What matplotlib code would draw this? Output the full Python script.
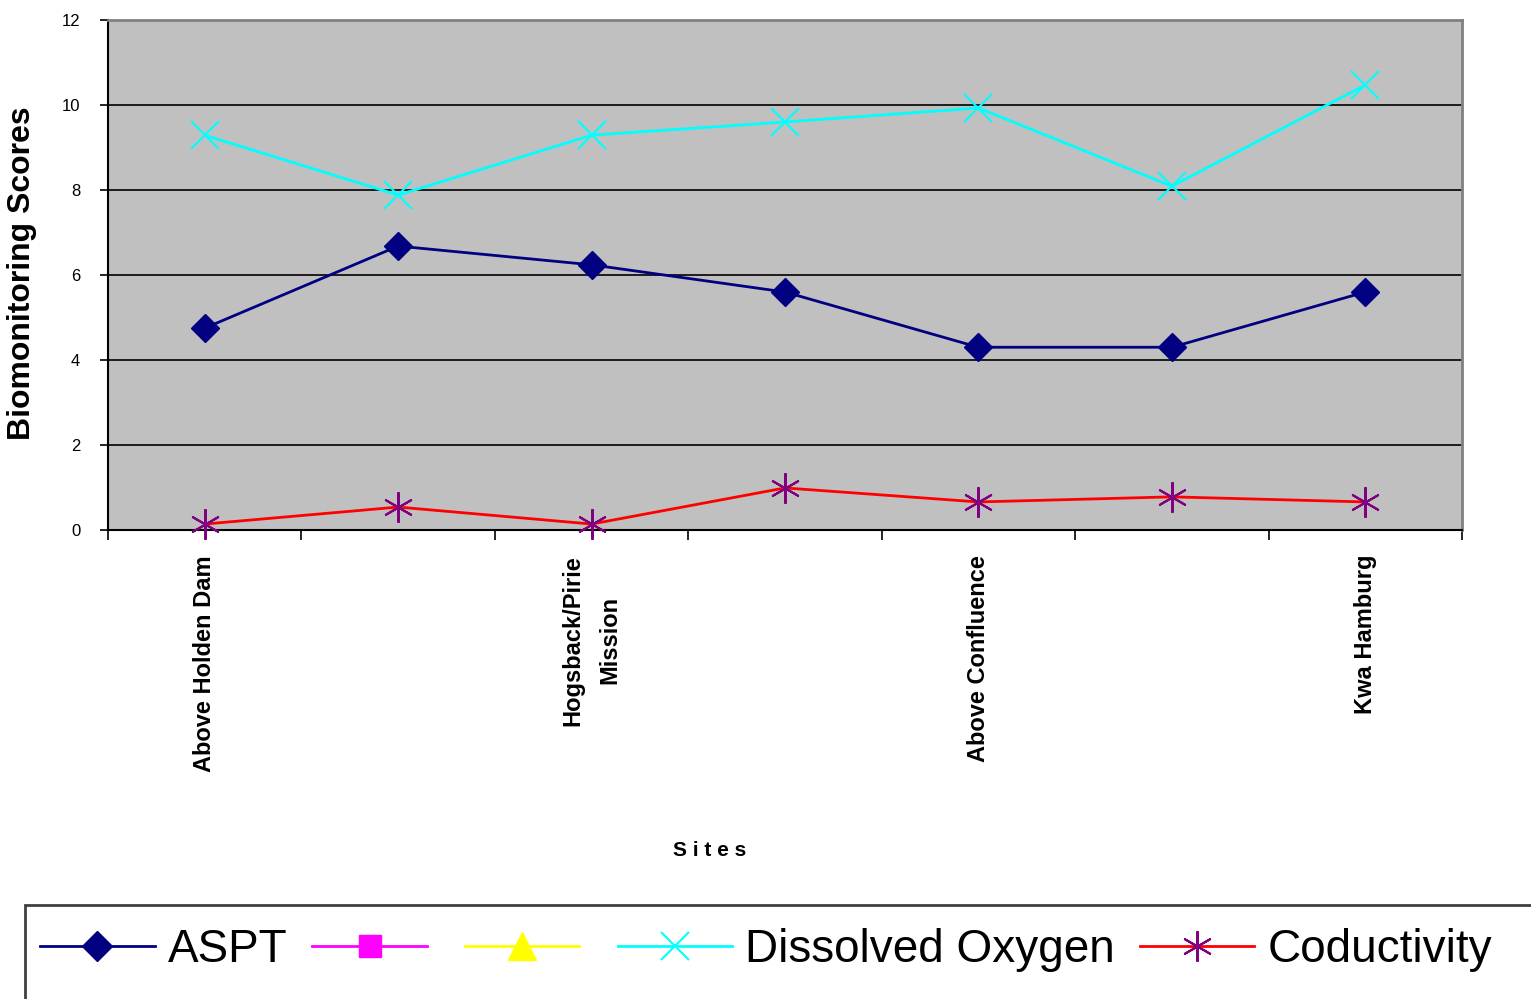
import matplotlib.pyplot as plt
from matplotlib.lines import Line2D
from matplotlib.patches import Rectangle

# sites along the river (only every other one is labelled on the axis)
sites = ["Above Holden Dam", "", "Hogsback/Pirie\nMission", "", "Above Confluence", "", "Kwa Hamburg"]

aspt = [4.75, 6.68, 6.24, 5.60, 4.30, 4.30, 5.60]
dissolved_oxygen = [9.29, 7.88, 9.29, 9.60, 9.93, 8.09, 10.47]
conductivity = [0.14, 0.54, 0.14, 0.99, 0.66, 0.78, 0.66]

fig = plt.figure(figsize=(15.31, 9.99), dpi=100)
ax = fig.add_axes([108 / 1531, 1 - 530 / 999, (1462 - 108) / 1531, (530 - 20) / 999])
ax.set_facecolor("#C0C0C0")

x = range(len(sites))
ax.plot(x, aspt, color="#000080", lw=2, marker="D", ms=14, zorder=3)
ax.plot(x, dissolved_oxygen, color="#00FFFF", lw=2, marker="x", ms=20, mew=1.5, zorder=3)
ax.plot(x, conductivity, color="#FF0000", lw=2, marker=(6, 2, 0), ms=22,
        mec="#800080", mew=1.5, zorder=3, clip_on=False)

ax.set_xlim(-0.5, len(sites) - 0.5)
ax.set_ylim(0, 12)
ax.set_yticks(range(0, 13, 2))
ax.yaxis.grid(True, color="black", lw=1.2)
ax.set_axisbelow(True)

# category boundaries carry the tick marks, labels sit on the sites
ax.set_xticks([k - 0.5 for k in range(len(sites) + 1)], minor=True)
ax.set_xticks(list(x))
ax.set_xticklabels(sites, rotation=90, fontsize=17, fontweight="bold",
                   family="Liberation Sans", multialignment="center", linespacing=1.75)
ax.tick_params(axis="x", which="major", length=0, pad=18)
ax.tick_params(axis="x", which="minor", length=7, width=1.2)
ax.tick_params(axis="y", length=6, width=1.2, pad=14)
for lab in ax.get_yticklabels():
    lab.set_family("Liberation Sans")
    lab.set_fontsize(12)

for side in ("top", "right"):
    ax.spines[side].set_color("#808080")
    ax.spines[side].set_linewidth(2)
for side in ("left", "bottom"):
    ax.spines[side].set_linewidth(1.5)

fig.text(22 / 1531, 1 - 273 / 999, "Biomonitoring Scores", rotation=90, ha="center", va="center",
         fontsize=23, fontweight="bold", family="Liberation Sans")
fig.text(710 / 1531, 1 - 850 / 999, "S i t e s", ha="center", va="center",
         fontsize=15, fontweight="bold", family="Liberation Sans")

# legend box runs off the lower right edge of the figure
fig.add_artist(Rectangle((25 / 1531, -0.05), 1.1, 0.05 + 1 - 905 / 999, transform=fig.transFigure,
                         fill=False, edgecolor="#404040", lw=2))

handles = [
    Line2D([], [], color="#000080", lw=2, marker="D", ms=15),
    Line2D([], [], color="#FF00FF", lw=2, marker="s", ms=16),
    Line2D([], [], color="#FFFF00", lw=2, marker="^", ms=20),
    Line2D([], [], color="#00FFFF", lw=2, marker="x", ms=20, mew=1.5),
    Line2D([], [], color="#FF0000", lw=2, marker=(6, 2, 0), ms=22, mec="#800080", mew=1.5),
]
labels = ["ASPT", "", "", "Dissolved Oxygen", "Coductivity"]
fig.legend(handles, labels, loc="center left", bbox_to_anchor=(40 / 1531, 1 - 950 / 999),
           ncol=5, frameon=False, handlelength=2.5, handletextpad=0.28, columnspacing=0.55,
           borderpad=0, borderaxespad=0, prop={"family": "Liberation Sans", "size": 33})

fig.savefig("out.png", dpi=100)
